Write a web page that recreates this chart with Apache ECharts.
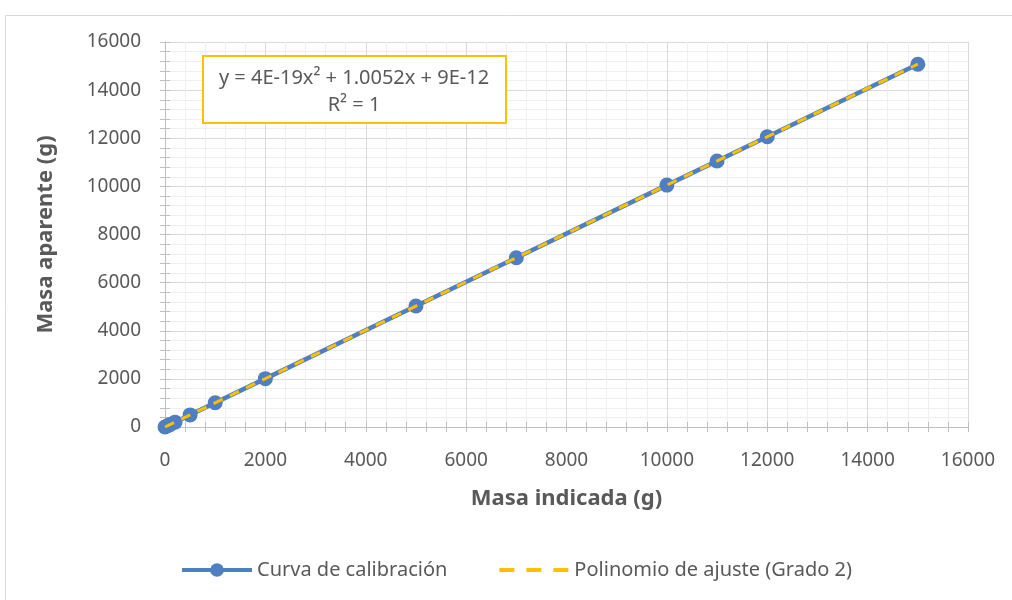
<!DOCTYPE html>
<html>
<head>
<meta charset="utf-8" />
<title>Curva de calibración</title>
<script src="https://cdn.jsdelivr.net/npm/echarts@6/dist/echarts.min.js"></script>
</head>
<body style="margin:0;background:#fff;">
<div id="main" style="width:1012px;height:600px;"></div>
<script type="text/javascript">
// datos
var masaIndicada = [0, 50, 100, 200, 500, 1000, 2000, 5000, 7000, 10000, 11000, 12000, 15000];
var masaAparente = [0, 50, 100, 201, 503, 1005, 2010, 5026, 7036, 10052, 11057, 12062, 15078];
// polinomio de ajuste (grado 2), extremos
var ajusteX = [0, 15000];
var ajusteY = [0, 15078];
var ecuacion = ['y = 4E-19x² + 1.0052x + 9E-12', 'R² = 1'];

var font = 'Noto Sans';
var gris = '#595959';
var azul = '#4F7FC0';
var amarillo = '#FFC000';

function ejeBase(nombre, margen) {
  return {
    type: 'value', min: 0, max: 16000, interval: 2000,
    name: nombre, nameLocation: 'middle',
    nameTextStyle: { fontSize: 22, fontWeight: 'bold', color: gris, fontFamily: font },
    axisLine: { show: true, lineStyle: { color: '#bfbfbf' } },
    axisTick: { show: true, length: 5, lineStyle: { color: '#bfbfbf' } },
    minorTick: { show: true, splitNumber: 5, length: 5, lineStyle: { color: '#bfbfbf' } },
    axisLabel: { fontSize: 19, color: gris, margin: margen, formatter: function (v) { return String(v); } },
    splitLine: { show: true, lineStyle: { color: '#d9d9d9' } },
    minorSplitLine: { show: true, lineStyle: { color: '#efefef' } }
  };
}
// ejes auxiliares: solo las marcas hacia dentro (marcas cruzadas)
function ejeMarcas(pos) {
  return {
    type: 'value', min: 0, max: 16000, interval: 2000, position: pos,
    axisLine: { show: false },
    axisTick: { show: true, inside: true, length: 5, lineStyle: { color: '#bfbfbf' } },
    minorTick: { show: true, splitNumber: 5, length: 5, lineStyle: { color: '#bfbfbf' } },
    axisLabel: { show: false },
    splitLine: { show: false }
  };
}

var ejeX = ejeBase('Masa indicada (g)', 24);
ejeX.nameGap = 61;
var ejeY = ejeBase('Masa aparente (g)', 24);
ejeY.nameGap = 108;
ejeY.nameRotate = 90;

var myChart = echarts.init(document.getElementById('main'));
var option = {
  animation: false,
  textStyle: { fontFamily: font },
  grid: { left: 165, right: 44, top: 42, bottom: 173 },
  xAxis: [ejeX, ejeMarcas('bottom')],
  yAxis: [ejeY, ejeMarcas('left')],
  legend: {
    top: 555, left: 175, itemGap: 50, itemWidth: 70, itemHeight: 17,
    textStyle: { fontSize: 20, color: gris, fontFamily: font },
    data: [
      { name: 'Curva de calibración', lineStyle: { width: 4 } },
      { name: 'Polinomio de ajuste (Grado 2)', lineStyle: { width: 4, type: [15, 12] }, itemStyle: { opacity: 0 } }
    ]
  },
  graphic: [
    { type: 'rect', left: 3, top: 13, shape: { width: 1020, height: 600 },
      style: { fill: 'none', stroke: '#d9d9d9', lineWidth: 1 }, silent: true },
    { type: 'group', left: 202, top: 55, z: 100, children: [
      { type: 'rect', z: 100, shape: { width: 303, height: 67 },
        style: { fill: '#fff', stroke: amarillo, lineWidth: 2 } },
      { type: 'text', z: 101, x: 151, y: 12, style: { text: ecuacion[0], fontSize: 20, fill: gris, align: 'center', fontFamily: font } },
      { type: 'text', z: 101, x: 151, y: 39, style: { text: ecuacion[1], fontSize: 20, fill: gris, align: 'center', fontFamily: font } }
    ] }
  ],
  series: [
    {
      name: 'Curva de calibración', type: 'line',
      data: masaIndicada.map(function (x, i) { return [x, masaAparente[i]]; }),
      symbol: 'circle', symbolSize: 15,
      itemStyle: { color: azul },
      lineStyle: { color: azul, width: 4.5 },
      z: 2
    },
    {
      name: 'Polinomio de ajuste (Grado 2)', type: 'line',
      data: ajusteX.map(function (x, i) { return [x, ajusteY[i]]; }),
      symbol: 'none',
      itemStyle: { color: amarillo },
      lineStyle: { color: amarillo, width: 3, type: [10, 8] },
      z: 3
    }
  ]
};
myChart.setOption(option);
</script>
</body>
</html>
